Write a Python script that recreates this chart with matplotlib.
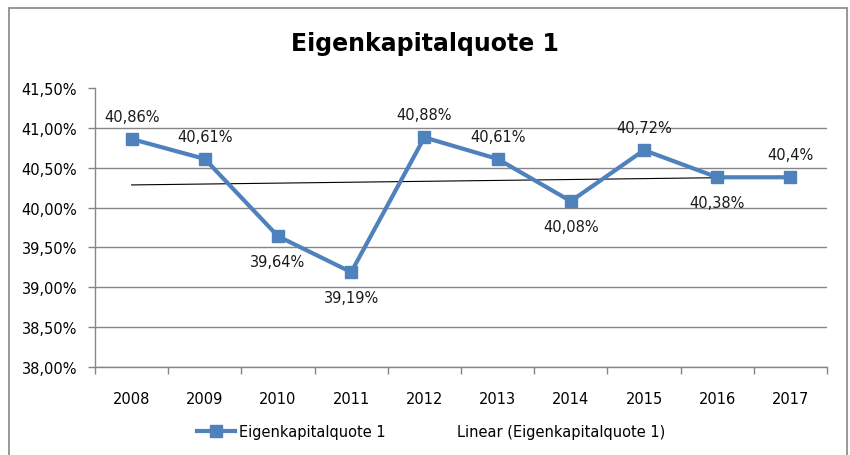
import matplotlib
matplotlib.use('Agg')
import matplotlib.pyplot as plt
from matplotlib.lines import Line2D
from matplotlib.patches import Rectangle
from matplotlib.ticker import FuncFormatter, FixedLocator
import numpy as np

# data
years = ['2008', '2009', '2010', '2011', '2012', '2013', '2014', '2015', '2016', '2017']
quote = [40.86, 40.61, 39.64, 39.19, 40.88, 40.61, 40.08, 40.72, 40.38, 40.38]
point_labels = ['40,86%', '40,61%', '39,64%', '39,19%', '40,88%',
                '40,61%', '40,08%', '40,72%', '40,38%', '40,4%']
label_above = [True, True, False, False, True, True, False, True, False, True]
y_ticks = [38.0, 38.5, 39.0, 39.5, 40.0, 40.5, 41.0, 41.5]

BLUE = '#4F81BD'
GRID = '#868686'
plt.rcParams['font.family'] = ['DejaVu Sans']

fig = plt.figure(figsize=(8.5, 4.56), dpi=100)
ax = fig.add_axes([95 / 850, 1 - 368 / 456, (827 - 95) / 850, (368 - 89) / 456])

# outer chart frame
fig.patches.append(Rectangle((9 / 850, -0.05), (847 - 9) / 850, 1 - 9 / 456 + 0.05,
                             transform=fig.transFigure, fill=False,
                             edgecolor='#868686', linewidth=1.2))

x = np.arange(len(years))
line, = ax.plot(x, quote, color=BLUE, linewidth=3, marker='s', markersize=8.5,
                markerfacecolor=BLUE, markeredgecolor=BLUE, zorder=3)

# linear trend
coef = np.polyfit(x, quote, 1)
trend, = ax.plot(x, np.polyval(coef, x), color='black', linewidth=0.8, zorder=2)

for xi, yi, lab, up in zip(x, quote, point_labels, label_above):
    ax.annotate(lab, (xi, yi), xytext=(0, 16.5 if up else -18.5),
                textcoords='offset points', ha='center', va='center',
                fontsize=10.5, color='#1a1a1a')

ax.set_xlim(-0.5, len(years) - 0.5)
ax.set_ylim(38.0, 41.5)
ax.set_xticks(x)
ax.set_xticklabels(years, fontsize=10.5)
ax.xaxis.set_minor_locator(FixedLocator(np.arange(-0.5, len(years), 1.0)))
ax.tick_params(axis='x', which='major', length=0, pad=17)
ax.tick_params(axis='x', which='minor', length=5, color=GRID, width=1)
ax.set_yticks(y_ticks)
ax.yaxis.set_major_formatter(FuncFormatter(lambda v, p: f'{v:.2f}%'.replace('.', ',')))
ax.tick_params(axis='y', length=5, color=GRID, width=1, labelsize=10.5, pad=8)

for yv in y_ticks[:-1]:
    ax.axhline(yv, color=GRID, linewidth=1, zorder=1)
for s in ['top', 'right']:
    ax.spines[s].set_visible(False)
for s in ['left', 'bottom']:
    ax.spines[s].set_color(GRID)
    ax.spines[s].set_linewidth(1)

fig.text(425 / 850, 1 - 44 / 456, 'Eigenkapitalquote 1', ha='center', va='center',
         fontsize=17, fontweight='bold')

blank = Line2D([], [], color='none')
fig.legend([line, blank], ['Eigenkapitalquote 1', 'Linear (Eigenkapitalquote 1)'],
           loc='center', bbox_to_anchor=(431 / 850, 1 - 433 / 456), ncol=2,
           frameon=False, fontsize=10.5, handlelength=2.6, handletextpad=0.3,
           columnspacing=2.0, markerscale=1.0)

fig.savefig('out.png', dpi=100)
